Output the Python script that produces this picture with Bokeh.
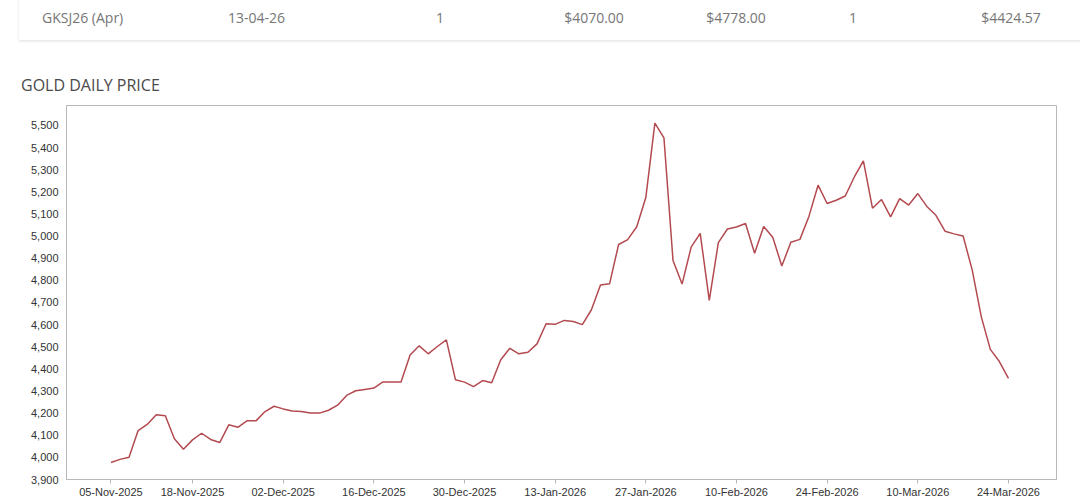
import pandas as pd
from bokeh.plotting import figure
from bokeh.layouts import column
from bokeh.models import FixedTicker, Range1d, NumeralTickFormatter, Div
from bokeh.embed import file_html
from bokeh.resources import INLINE

# ---- data ----
table_row = ["GKSJ26 (Apr)", "13-04-26", "1", "$4070.00", "$4778.00", "1", "$4424.57"]
title_text = "GOLD DAILY PRICE"

dates = pd.bdate_range("2025-11-05", "2026-03-24")
prices = [
    3977, 3991, 4001, 4121, 4149, 4193, 4188, 4084, 4037, 4079,
    4109, 4081, 4067, 4147, 4136, 4165, 4165, 4207, 4231, 4219,
    4210, 4207, 4200, 4200, 4213, 4236, 4280, 4301, 4307, 4313,
    4341, 4341, 4341, 4463, 4504, 4468, 4501, 4531, 4351, 4340,
    4320, 4347, 4337, 4441, 4493, 4468, 4475, 4513, 4604, 4601,
    4619, 4614, 4600, 4667, 4779, 4784, 4962, 4984, 5042, 5174,
    5510, 5444, 4890, 4783, 4950, 5012, 4709, 4970, 5032, 5041,
    5057, 4922, 5043, 4995, 4865, 4972, 4985, 5090, 5230, 5147,
    5162, 5181, 5267, 5340, 5126, 5165, 5087, 5169, 5140, 5192,
    5134, 5094, 5022, 5010, 5000, 4847, 4636, 4488, 4433, 4357,
]
tick_labels = ["05-Nov-2025", "18-Nov-2025", "02-Dec-2025", "16-Dec-2025",
               "30-Dec-2025", "13-Jan-2026", "27-Jan-2026", "10-Feb-2026",
               "24-Feb-2026", "10-Mar-2026", "24-Mar-2026"]
y_ticks = list(range(3900, 5501, 100))

idx = list(range(len(prices)))
date_labels = [d.strftime("%d-%b-%Y") for d in dates[:len(prices)]]
tick_idx = [date_labels.index(t) for t in tick_labels]

W = 1080
TOP_H = 97
CH_H = 504 - TOP_H

# ---- header (table row card + chart title) ----
col_x = [42, 228, 440, 594, 736, 853, 1011]
col_align = ["left", "left", "center", "center", "center", "center", "center"]
spans = []
for txt, cx, al in zip(table_row, col_x, col_align):
    tr = "" if al == "left" else "transform:translateX(-50%);"
    spans.append(
        f'<span style="position:absolute;left:{cx}px;top:8px;white-space:nowrap;{tr}'
        f'font-size:14px;line-height:20px;color:#767676;">{txt}</span>')
html = (
    '<div style="position:relative;width:1080px;height:97px;overflow:hidden;'
    "font-family:'Open Sans',sans-serif;background:#fff;\">"
    '<div style="position:absolute;left:19px;top:-10px;width:1080px;height:50px;'
    'background:#fff;box-shadow:0 1px 3px rgba(0,0,0,0.13);"></div>'
    + "".join(spans)
    + '<span style="position:absolute;left:21px;top:74px;white-space:nowrap;'
    f'font-size:16px;line-height:22px;color:#4a4a4a;">{title_text}</span>'
    "</div>"
)
header = Div(text=html, width=W, height=TOP_H, margin=0)

# ---- chart figure ----
FL, FR, FT, FB = 66, 1056, 8, 479 - TOP_H
p = figure(width=W, height=CH_H, output_backend="svg", toolbar_location=None,
           min_border_left=FL, min_border_right=W - FR,
           min_border_top=FT, min_border_bottom=CH_H - FB,
           x_range=Range1d(-4.9, 104.3), y_range=Range1d(3900, 5590))
p.background_fill_color = "white"
p.border_fill_color = "white"
p.outline_line_color = "#b8b8b8"
p.outline_line_width = 1
p.grid.visible = False

p.line(idx, prices, line_color="#b24a50", line_width=1.5)

p.xaxis.ticker = FixedTicker(ticks=tick_idx)
p.xaxis.major_label_overrides = {i: date_labels[i] for i in tick_idx}
p.xaxis.major_tick_out = 4
p.xaxis.major_tick_in = 0
p.xaxis.minor_tick_line_color = None
p.xaxis.major_label_standoff = 2
p.yaxis.ticker = FixedTicker(ticks=y_ticks)
p.yaxis.formatter = NumeralTickFormatter(format="0,0")
p.yaxis.major_tick_out = 0
p.yaxis.major_tick_in = 0
p.yaxis.minor_tick_line_color = None
p.yaxis.major_label_standoff = 8
for ax in (p.xaxis, p.yaxis):
    ax.axis_line_color = "#b8b8b8"
    ax.major_tick_line_color = "#b8b8b8"
    ax.major_label_text_font = "Liberation Sans"
    ax.major_label_text_font_size = "11px"
    ax.major_label_text_color = "#333333"

layout = column(header, p, spacing=0)
open("out.html", "w").write(file_html(layout, INLINE))
